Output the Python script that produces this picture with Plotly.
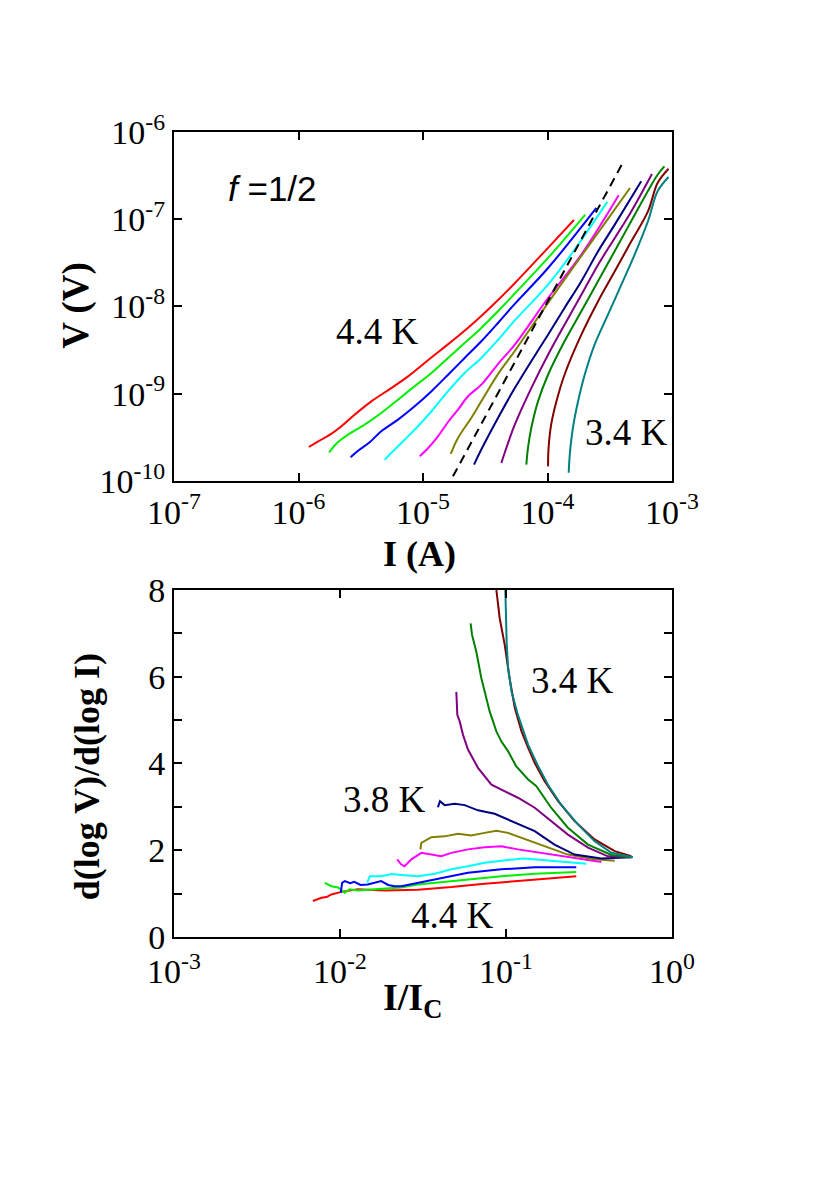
import plotly.graph_objects as go

# ---- top panel: V(I) curves, 4.4 K (red) ... 3.4 K (teal) ----
i_44 = [1.21e-6, 1.44e-6, 1.83e-6, 2.21e-6, 2.82e-6, 3.85e-6, 5.56e-6, 7.59e-6, 1.03e-5, 1.40e-5, 1.91e-5, 2.60e-5, 3.54e-5, 5.46e-5, 1.01e-4, 1.63e-4]
v_44 = [2.45e-10, 2.85e-10, 3.46e-10, 4.24e-10, 5.75e-10, 8.18e-10, 1.16e-9, 1.58e-9, 2.25e-9, 3.20e-9, 4.55e-9, 6.64e-9, 1.00e-8, 1.85e-8, 4.70e-8, 9.79e-8]
i_43 = [1.76e-6, 2.07e-6, 2.50e-6, 3.40e-6, 4.62e-6, 6.30e-6, 8.57e-6, 1.17e-5, 1.59e-5, 2.16e-5, 2.94e-5, 4.00e-5, 5.46e-5, 1.01e-4, 2.01e-4]
v_43 = [2.13e-10, 2.78e-10, 3.40e-10, 4.42e-10, 6.01e-10, 8.55e-10, 1.22e-9, 1.73e-9, 2.57e-9, 3.82e-9, 5.68e-9, 8.81e-9, 1.41e-8, 3.60e-8, 1.13e-7]
i_42 = [2.62e-6, 3.01e-6, 3.73e-6, 4.62e-6, 6.30e-6, 8.57e-6, 1.17e-5, 1.59e-5, 2.16e-5, 2.94e-5, 4.00e-5, 5.46e-5, 1.01e-4, 2.47e-4]
v_42 = [1.87e-10, 2.22e-10, 2.78e-10, 3.72e-10, 5.05e-10, 7.18e-10, 1.07e-9, 1.65e-9, 2.57e-9, 3.99e-9, 6.47e-9, 1.07e-8, 2.76e-8, 1.35e-7]
i_41 = [4.92e-6, 5.56e-6, 7.13e-6, 9.12e-6, 1.17e-5, 1.59e-5, 2.16e-5, 2.94e-5, 4.00e-5, 5.46e-5, 1.01e-4, 1.65e-4, 3.02e-4]
v_41 = [1.75e-10, 2.09e-10, 2.97e-10, 4.24e-10, 6.30e-10, 1.07e-9, 1.73e-9, 2.57e-9, 4.13e-9, 6.92e-9, 1.78e-8, 4.48e-8, 1.58e-7]
i_40 = [9.42e-6, 1.10e-5, 1.32e-5, 1.59e-5, 1.91e-5, 2.30e-5, 2.94e-5, 4.00e-5, 5.46e-5, 1.01e-4, 1.87e-4, 3.73e-4]
v_40 = [1.92e-10, 2.39e-10, 3.25e-10, 4.74e-10, 6.56e-10, 9.35e-10, 1.27e-9, 2.19e-9, 3.65e-9, 1.25e-8, 3.93e-8, 1.88e-7]
i_39 = [1.67e-5, 1.91e-5, 2.44e-5, 2.94e-5, 4.00e-5, 5.46e-5, 1.01e-4, 1.87e-4, 3.09e-4, 4.60e-4]
v_39 = [2.04e-10, 3.11e-10, 5.27e-10, 8.18e-10, 1.68e-9, 3.09e-9, 1.10e-8, 3.79e-8, 1.03e-7, 2.28e-7]
i_38 = [2.57e-5, 2.94e-5, 4.00e-5, 5.46e-5, 7.41e-5, 1.01e-4, 1.37e-4, 1.87e-4, 2.55e-4, 3.47e-4, 5.66e-4]
v_38 = [1.54e-10, 2.29e-10, 5.27e-10, 1.16e-9, 2.36e-9, 4.75e-9, 9.62e-9, 1.95e-8, 4.30e-8, 8.67e-8, 2.72e-7]
i_37 = [4.26e-5, 4.67e-5, 5.46e-5, 7.41e-5, 1.01e-4, 1.37e-4, 1.87e-4, 2.55e-4, 3.47e-4, 4.71e-4, 6.90e-4]
v_37 = [1.61e-10, 2.39e-10, 4.42e-10, 1.16e-9, 2.80e-9, 6.18e-9, 1.36e-8, 3.01e-8, 6.10e-8, 1.23e-7, 3.30e-7]
i_36 = [6.76e-5, 6.97e-5, 7.41e-5, 8.39e-5, 1.01e-4, 1.37e-4, 1.87e-4, 2.55e-4, 3.47e-4, 4.71e-4, 6.41e-4, 7.66e-4, 8.69e-4]
v_36 = [1.54e-10, 2.39e-10, 4.05e-10, 8.18e-10, 1.65e-9, 3.99e-9, 8.81e-9, 1.96e-8, 4.33e-8, 9.55e-8, 2.11e-7, 3.24e-7, 4.04e-7]
i_35 = [1.01e-4, 1.02e-4, 1.07e-4, 1.18e-4, 1.37e-4, 1.87e-4, 2.55e-4, 3.47e-4, 4.71e-4, 6.41e-4, 7.66e-4, 9.38e-4]
v_35 = [1.47e-10, 2.39e-10, 4.42e-10, 8.18e-10, 1.65e-9, 4.75e-9, 1.15e-8, 2.53e-8, 5.58e-8, 1.23e-7, 2.60e-7, 3.79e-7]
i_34 = [1.48e-4, 1.51e-4, 1.60e-4, 1.76e-4, 1.99e-4, 2.39e-4, 3.06e-4, 3.92e-4, 5.01e-4, 6.41e-4, 7.66e-4, 9.38e-4]
v_34 = [1.24e-10, 2.00e-10, 4.05e-10, 8.18e-10, 1.65e-9, 3.65e-9, 8.05e-9, 1.78e-8, 3.93e-8, 9.48e-8, 2.09e-7, 3.05e-7]
# dashed power-law guide line
i_dash = [1.74e-5, 4.11e-4]
v_dash = [1.13e-10, 4.69e-7]

# ---- bottom panel: d(log V)/d(log I) vs I/Ic ----
r_44 = [6.87e-3, 7.3e-3, 7.73e-3, 8.3e-3, 8.87e-3, 1.02e-2, 1.28e-2, 1.86e-2, 2.95e-2, 4.69e-2, 7.43e-2, 0.118, 0.187, 0.265]
s_44 = [0.83, 0.86, 0.905, 0.92, 0.98, 1.04, 1.10, 1.07, 1.09, 1.15, 1.23, 1.29, 1.35, 1.40]
r_43 = [8.09e-3, 8.87e-3, 9.73e-3, 1.07e-2, 1.14e-2, 1.28e-2, 1.62e-2, 2.34e-2, 2.95e-2, 3.72e-2, 5.90e-2, 9.37e-2, 0.149, 0.265]
s_43 = [1.25, 1.17, 1.14, 1.02, 1.10, 1.07, 1.10, 1.14, 1.21, 1.25, 1.33, 1.40, 1.46, 1.50]
r_42 = [1.01e-2, 1.03e-2, 1.07e-2, 1.15e-2, 1.22e-2, 1.33e-2, 1.47e-2, 1.62e-2, 1.77e-2, 1.95e-2, 2.13e-2, 2.34e-2, 2.95e-2, 3.72e-2, 4.69e-2, 5.90e-2, 9.37e-2, 0.149, 0.265]
s_42 = [1.02, 1.25, 1.29, 1.24, 1.27, 1.20, 1.21, 1.25, 1.29, 1.20, 1.17, 1.17, 1.25, 1.33, 1.40, 1.48, 1.56, 1.61, 1.61]
r_41 = [1.46e-2, 1.51e-2, 1.77e-2, 2.05e-2, 2.34e-2, 2.95e-2, 3.72e-2, 4.69e-2, 5.90e-2, 7.43e-2, 9.37e-2, 0.129, 0.187, 0.305]
s_41 = [1.25, 1.40, 1.40, 1.45, 1.43, 1.40, 1.46, 1.56, 1.63, 1.71, 1.76, 1.81, 1.76, 1.69]
r_40 = [2.21e-2, 2.34e-2, 2.45e-2, 2.69e-2, 3.09e-2, 3.55e-2, 4.07e-2, 4.69e-2, 5.90e-2, 7.43e-2, 9.37e-2, 0.118, 0.187, 0.375]
s_40 = [1.79, 1.67, 1.63, 1.79, 1.94, 1.90, 1.86, 1.94, 2.02, 2.07, 2.09, 2.02, 1.90, 1.73]
r_39 = [3.05e-2, 3.09e-2, 3.55e-2, 4.27e-2, 5.14e-2, 6.18e-2, 7.43e-2, 8.75e-2, 0.103, 0.149, 0.236, 0.342, 0.452]
s_39 = [2.02, 2.17, 2.30, 2.32, 2.38, 2.34, 2.40, 2.45, 2.40, 2.17, 1.90, 1.79, 1.76]
r_38 = [3.89e-2, 4.00e-2, 4.27e-2, 4.91e-2, 5.64e-2, 6.78e-2, 8.55e-2, 0.108, 0.149, 0.196, 0.259, 0.375, 0.569]
s_38 = [2.99, 3.13, 3.04, 3.07, 3.04, 2.92, 2.84, 2.67, 2.44, 2.13, 1.90, 1.81, 1.84]
r_37 = [5.02e-2, 5.09e-2, 5.26e-2, 5.51e-2, 5.90e-2, 6.78e-2, 8.17e-2, 9.37e-2, 0.118, 0.149, 0.187, 0.236, 0.312, 0.411, 0.569]
s_37 = [5.65, 5.12, 4.97, 4.66, 4.32, 3.90, 3.51, 3.40, 3.21, 2.98, 2.67, 2.36, 2.06, 1.86, 1.84]
r_36 = [6.12e-2, 6.24e-2, 6.62e-2, 7.10e-2, 7.97e-2, 8.75e-2, 9.37e-2, 0.103, 0.115, 0.136, 0.152, 0.187, 0.236, 0.312, 0.432, 0.569]
s_36 = [7.23, 6.97, 6.58, 5.97, 5.20, 4.74, 4.51, 4.28, 3.94, 3.63, 3.48, 2.98, 2.52, 2.13, 1.89, 1.84]
r_35 = [8.75e-2, 9.16e-2, 9.82e-2, 0.105, 0.113, 0.124, 0.136, 0.149, 0.171, 0.206, 0.259, 0.342, 0.452, 0.569]
s_35 = [8.0, 7.35, 6.74, 5.97, 5.28, 4.74, 4.36, 4.01, 3.59, 3.13, 2.67, 2.25, 1.98, 1.86]
r_34 = [9.91e-2, 0.100, 0.101, 0.103, 0.108, 0.118, 0.136, 0.156, 0.179, 0.215, 0.272, 0.342, 0.432, 0.582]
s_34 = [8.0, 7.35, 6.74, 6.20, 5.66, 5.12, 4.43, 3.94, 3.51, 3.05, 2.59, 2.21, 1.94, 1.84]

colors = ["#ff0000", "#00ee00", "#0000ff", "#00ffff", "#ff00ff", "#808000",
          "#000080", "#800080", "#008000", "#800000", "#008080"]
top_curves = [(i_44, v_44), (i_43, v_43), (i_42, v_42), (i_41, v_41), (i_40, v_40), (i_39, v_39),
              (i_38, v_38), (i_37, v_37), (i_36, v_36), (i_35, v_35), (i_34, v_34)]
bottom_curves = [(r_44, s_44), (r_43, s_43), (r_42, s_42), (r_41, s_41), (r_40, s_40), (r_39, s_39),
                 (r_38, s_38), (r_37, s_37), (r_36, s_36), (r_35, s_35), (r_34, s_34)]

top_xticks = [1e-7, 1e-6, 1e-5, 1e-4, 1e-3]
top_xtext = ["10<sup>-7</sup>", "10<sup>-6</sup>", "10<sup>-5</sup>", "10<sup>-4</sup>", "10<sup>-3</sup>"]
top_yticks = [1e-10, 1e-9, 1e-8, 1e-7, 1e-6]
top_ytext = ["10<sup>-10</sup>", "10<sup>-9</sup>", "10<sup>-8</sup>", "10<sup>-7</sup>", "10<sup>-6</sup>"]
bot_xticks = [1e-3, 1e-2, 1e-1, 1]
bot_xtext = ["10<sup>-3</sup>", "10<sup>-2</sup>", "10<sup>-1</sup>", "10<sup>0</sup>"]
bot_yticks = [0, 1, 2, 3, 4, 5, 6, 7, 8]
bot_ytext = ["0", "", "2", "", "4", "", "6", "", "8"]

serif = "Liberation Serif, Times New Roman, serif"

fig = go.Figure()
for c, (x, y) in zip(colors, top_curves):
    fig.add_scatter(x=x, y=y, mode="lines", xaxis="x", yaxis="y",
                    line=dict(color=c, width=2, shape="spline", smoothing=1.0))
fig.add_scatter(x=i_dash, y=v_dash, mode="lines", xaxis="x", yaxis="y",
                line=dict(color="black", width=2, dash="9px,6px"))
for c, (x, y) in zip(colors, bottom_curves):
    fig.add_scatter(x=x, y=y, mode="lines", xaxis="x2", yaxis="y2",
                    line=dict(color=c, width=2))

axis_style = dict(showline=True, linewidth=2, linecolor="black", mirror="allticks",
                  ticks="inside", ticklen=8, tickwidth=2, tickcolor="black",
                  showgrid=False, zeroline=False,
                  tickfont=dict(family=serif, size=34, color="black"))

fig.update_layout(
    width=830, height=1195,
    margin=dict(l=166, r=166, t=124, b=266),
    paper_bgcolor="white", plot_bgcolor="white",
    showlegend=False,
    xaxis=dict(type="log", range=[-7, -3], domain=[0, 1], anchor="y",
               tickvals=top_xticks, ticktext=top_xtext, **axis_style),
    yaxis=dict(type="log", range=[-10, -6], domain=[0.5665, 1], anchor="x",
               tickvals=top_yticks, ticktext=top_ytext, **axis_style),
    xaxis2=dict(type="log", range=[-3, 0], domain=[0, 1], anchor="y2",
                tickvals=bot_xticks, ticktext=bot_xtext, ticklabelstandoff=3, **axis_style),
    yaxis2=dict(range=[0, 8], domain=[0, 0.4311], anchor="x2",
                tickvals=bot_yticks, ticktext=bot_ytext, **axis_style),
)

def note(text, x, y, size=37, family=serif, angle=0):
    fig.add_annotation(text=text, x=x, y=y, xref="paper", yref="paper",
                       xanchor="center", yanchor="middle",
                       showarrow=False, textangle=angle,
                       font=dict(family=family, size=size, color="black"))

# axis titles
note("<b>I (A)</b>", 0.492, 0.476, size=36)
note("<b>V (V)</b>", -0.196, 0.7845, size=37, angle=-90)
note("<b>I/I<sub>C</sub></b>", 0.478, -0.078, size=38)
note("<b>d(log V)/d(log I)</b>", -0.174, 0.1988, size=36, angle=-90)

# panel labels
note("<i>f</i> =1/2", 0.197, 0.930, size=35, family="Liberation Sans, Arial, sans-serif")
note("4.4 K", 0.408, 0.752)
note("3.4 K", 0.908, 0.627)
note("3.4 K", 0.801, 0.319)
note("3.8 K", 0.4227, 0.1714)
note("4.4 K", 0.559, 0.0261)

fig.write_html("out.html")
